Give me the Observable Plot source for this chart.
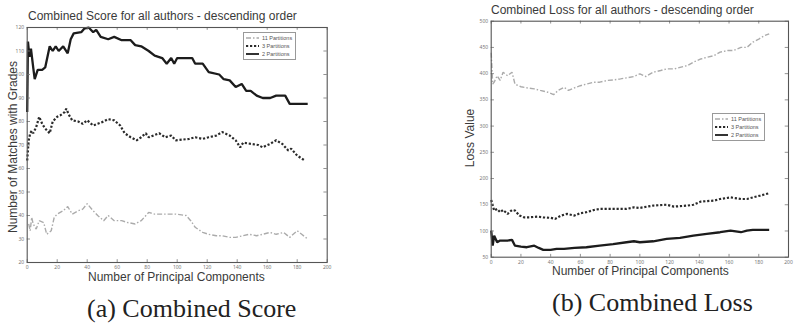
<!DOCTYPE html>
<html>
<head>
<meta charset="utf-8">
<script src="https://cdn.jsdelivr.net/npm/d3@7"></script>
<script src="https://cdn.jsdelivr.net/npm/@observablehq/plot@0.6"></script>
<style>
  html, body { margin: 0; padding: 0; background: #fff; }
  #page { position: relative; width: 795px; height: 323px; overflow: hidden; font-family: "Liberation Sans", Arial, sans-serif; }
  #page > * { position: absolute; }
  .title { font-size: 12px; line-height: 1; color: #3a3a3a; white-space: nowrap; }
  .xlab { font-size: 12px; line-height: 1; color: #3a3a3a; white-space: nowrap; }
  .ylab { font-size: 12px; line-height: 1; color: #3a3a3a; white-space: nowrap; transform: translate(-50%, -50%) rotate(-90deg); }
  .cap { font-family: "Liberation Serif", "Times New Roman", serif; font-size: 26px; line-height: 1; color: #222; white-space: nowrap; }
  .legend { border: 1px solid #999; background: #fff; font-size: 5.5px; color: #555; padding: 1px 3px 1px 2px; line-height: 8px; }
  .legend div { display: flex; align-items: center; white-space: nowrap; }
  .legend svg { margin-right: 3px; }
</style>
</head>
<body>
<div id="page"></div>
<script>
// ---- Data ----
const seriesNames = ["11 Partitions", "3 Partitions", "2 Partitions"];
const xTicks = [0, 20, 40, 60, 80, 100, 120, 140, 160, 180, 200];
const scoreYTicks = [20, 30, 40, 50, 60, 70, 80, 90, 100, 110, 120];
const lossYTicks = [50, 100, 150, 200, 250, 300, 350, 400, 450, 500];

// (a) Combined Score: [principal components, matches]
const score2P = [[0,84],[0.5,114],[1.5,107.5],[2.5,111],[4,103],[5,98],[7,102],[10,102],[12,103],[15,112],[17,110],[19,112],[21,110],[24,112],[27,109],[29,115],[31,117.5],[36,118],[38,119.5],[41,120],[44,118],[46,119],[49,116],[54,115],[58,116],[63,114.6],[69,114.6],[72,112.5],[76,112],[81,110],[85,108],[90,107],[93,104.6],[96,107],[98,104.6],[100,107],[110,107],[112,104.6],[117,104.6],[121,101],[128,100],[131,98],[135,97.5],[139,94.7],[143,96],[146,93],[149,93],[153,91],[157,90],[162,90],[166,91],[172,91],[175,87.5],[187,87.5]];
const score3P = [[0,63.4],[1,72],[2,75],[3,76],[4,75],[6,77.6],[8,82],[10,79],[12,77],[15,75],[17,80],[20,82],[22,82.6],[25,84],[26,85.4],[28,82.6],[30,80.5],[34,80],[37,79],[40,80.5],[44,78.3],[47,79],[51,80],[54,81],[58,80.5],[62,78.3],[65,75],[69,73.3],[73,72],[76,73.3],[79,75],[81,73.3],[84,74],[88,75],[92,73.3],[96,74],[99,72],[108,72.6],[112,73.3],[117,72.6],[121,73.3],[126,74],[130,75.5],[135,74],[139,72],[142,69],[144,71],[149,70.5],[154,70],[157,69],[162,70.5],[166,72],[170,70.5],[174,67.7],[176,68.4],[180,65.5],[185,63.4]];
const score11P = [[1,36.4],[2,33.5],[3,39.2],[4,36.4],[6,34.2],[8,37.8],[11,37],[13,32],[16,33.5],[18,39.2],[20,40.6],[24,42],[27,43.8],[30,40.6],[34,42],[37,42.7],[40,45],[44,42],[47,40],[51,37.8],[54,40],[58,37.8],[63,37.8],[67,37],[72,36.4],[76,37.8],[81,41.3],[85,40.6],[90,40.6],[94,40.6],[99,40.6],[106,40],[109,37.8],[112,35],[117,32.8],[121,32],[126,31.4],[130,31.4],[135,30.7],[139,30.7],[144,31.4],[148,32],[153,31.4],[157,32],[162,32.8],[166,32],[171,32.8],[175,30.7],[180,33.5],[183,32],[187,30]];

// (b) Combined Loss: [principal components, loss]
const loss11P = [[0,440],[1,380],[2,383.7],[4,396],[6,387],[8,402.7],[11,396],[14,402.7],[16,380],[20,375],[24,373],[29,371],[33,368],[38,364.6],[42,360],[45,368],[49,374],[52,368],[56,373],[60,377],[64,380],[69,383.7],[73,383.7],[78,387],[82,388],[87,390],[91,392],[96,394.5],[100,399.6],[104,394.5],[109,402.7],[114,406],[118,409],[123,409],[127,412],[132,415.4],[136,421.8],[141,428],[145,431],[150,434.5],[154,441],[159,444],[163,444],[168,450],[172,450],[176,460],[180,466],[184,472.7],[187,476]];
const loss3P = [[0,159],[2,139],[4,142],[6,135.7],[8,140],[11,132.5],[14,140],[16,139],[19,129.4],[22,126],[26,126],[31,127.5],[35,126],[40,125],[43,123],[47,129.4],[51,132.5],[56,129.4],[60,134],[64,135.7],[69,140],[73,142],[82,142],[91,142],[96,145],[100,144],[109,148.4],[118,150],[123,146.5],[132,148.4],[136,150],[141,156],[150,158],[154,161],[161,164],[168,161],[172,161],[176,164],[181,167.5],[187,172]];
const loss2P = [[0,100.8],[1,72],[2,91],[4,78.5],[6,81.7],[11,81.7],[14,83],[16,72],[20,70],[24,69],[29,72],[32,67.7],[35,64],[40,64],[44,66],[49,66],[56,67.7],[64,69],[73,72],[82,75],[91,78.5],[96,80.4],[100,78.5],[109,80.4],[118,85],[127,87],[136,91.2],[145,94.4],[154,97.6],[161,100.8],[168,97.6],[172,100.8],[176,102],[181,102],[187,102]];

// ---- styles ----
const styles = [
  {stroke: "#ababab", strokeWidth: 1.4, strokeDasharray: "5,2,1.5,2"},
  {stroke: "#2a2a2a", strokeWidth: 2.2, strokeDasharray: "2.2,1.8"},
  {stroke: "#1c1c1c", strokeWidth: 2.3, strokeDasharray: null}
];

function chart({series, yDomain, yTicks, width, height, margins}) {
  const [y0, y1] = yDomain;
  const yLen = (y1 - y0) * 0.012;
  const xLen = 2.2;
  const marks = [];
  series.forEach((s, i) => {
    marks.push(Plot.line(s, {x: d => d[0], y: d => d[1], ...styles[i], strokeLinejoin: "miter", strokeLinecap: "butt", curve: "linear"}));
  });
  marks.push(
    Plot.ruleX(xTicks, {y1: y0, y2: y0 + yLen, stroke: "#777", strokeWidth: 0.8}),
    Plot.ruleX(xTicks, {y1: y1, y2: y1 - yLen, stroke: "#777", strokeWidth: 0.8}),
    Plot.ruleY(yTicks, {x1: 0, x2: xLen, stroke: "#777", strokeWidth: 0.8}),
    Plot.ruleY(yTicks, {x1: 200, x2: 200 - xLen, stroke: "#777", strokeWidth: 0.8}),
    Plot.frame({stroke: "#555", strokeWidth: 1.1}),
    Plot.axisX(xTicks, {tickSize: 0, tickPadding: 3, fontSize: 5, fill: "#777", label: null}),
    Plot.axisY(yTicks, {tickSize: 0, tickPadding: 3, fontSize: 5, fill: "#777", label: null})
  );
  return Plot.plot({
    width, height,
    marginLeft: margins[0], marginRight: margins[1], marginTop: margins[2], marginBottom: margins[3],
    x: {domain: [0, 200]},
    y: {domain: yDomain},
    style: {background: "transparent", overflow: "visible"},
    marks
  });
}

const page = document.getElementById("page");

function place(el, left, top) { el.style.left = left + "px"; el.style.top = top + "px"; page.appendChild(el); return el; }
function text(cls, str, left, top) { const d = document.createElement("div"); d.className = cls; d.textContent = str; return place(d, left, top); }

const left = chart({series: [score11P, score3P, score2P], yDomain: [20, 120], yTicks: scoreYTicks,
  width: 340, height: 270, margins: [26.7, 13.3, 27, 8]});
place(left, 0, 0);

const right = chart({series: [loss11P, loss3P, loss2P], yDomain: [50, 500], yTicks: lossYTicks,
  width: 395, height: 264, margins: [90.7, 7, 20.7, 7.3]});
place(right, 400, 0);

text("title", "Combined Score for all authors - descending order", 28, 10);
text("title", "Combined Loss for all authors - descending order", 491, 4);
text("xlab", "Number of Principal Components", 88, 271);
text("xlab", "Number of Principal Components", 552, 265);
text("ylab", "Number of Matches with Grades", 13, 147);
text("ylab", "Loss Value", 470, 138);
text("cap", "(a) Combined Score", 87, 296);
text("cap", "(b) Combined Loss", 552, 290);

function legend(left, top) {
  const box = document.createElement("div");
  box.className = "legend";
  seriesNames.forEach((name, i) => {
    const row = document.createElement("div");
    const s = styles[i];
    row.innerHTML = `<svg width="13" height="4"><line x1="0" y1="2" x2="13" y2="2" stroke="${s.stroke}" stroke-width="${Math.min(s.strokeWidth, 1.8)}" ${s.strokeDasharray ? `stroke-dasharray="${s.strokeDasharray}"` : ""}/></svg><span>${name}</span>`;
    box.appendChild(row);
  });
  return place(box, left, top);
}
legend(243, 32);
legend(712, 113);
</script>
</body>
</html>
